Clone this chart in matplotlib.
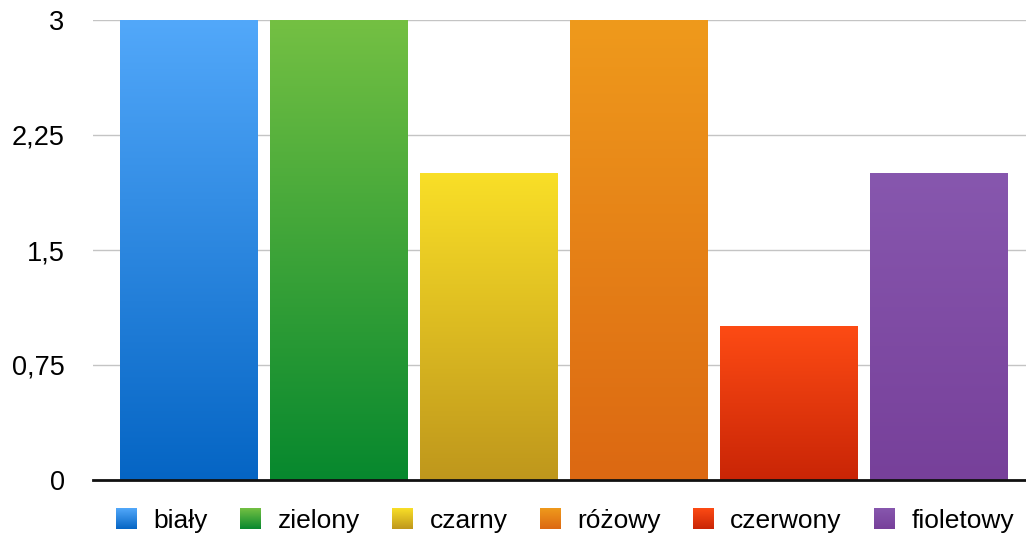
import numpy as np
import matplotlib
matplotlib.use("Agg")
from matplotlib import pyplot as plt
from matplotlib import colors as mcolors
from matplotlib.image import BboxImage
from matplotlib.legend_handler import HandlerBase
from matplotlib.transforms import Bbox, TransformedBbox

categories = ["biały", "zielony", "czarny", "różowy", "czerwony", "fioletowy"]
values = [3, 3, 2, 3, 1, 2]
top_colors = ["#52a8fa", "#74c043", "#f9df27", "#ef9a1c", "#fd4b14", "#8757ae"]
bottom_colors = ["#0565c4", "#07882e", "#bf971c", "#dc6812", "#c92506", "#77409a"]
yticks = [0, 0.75, 1.5, 2.25, 3]

plt.rcParams["font.family"] = ["Liberation Sans", "DejaVu Sans"]


def gradient(top, bottom, n=256):
    # rows go bottom -> top
    t = np.linspace(0, 1, n)[:, None]
    a = np.array(mcolors.to_rgb(bottom))
    b = np.array(mcolors.to_rgb(top))
    return (a + (b - a) * t).reshape(n, 1, 3)


class GradientHandler(HandlerBase):
    def __init__(self, top, bottom):
        super().__init__()
        self.top = top
        self.bottom = bottom

    def create_artists(self, legend, orig_handle, xdescent, ydescent,
                       width, height, fontsize, trans):
        size = min(width, height)
        x0 = -xdescent + (width - size) / 2
        y0 = -ydescent + (height - size) / 2
        bb = TransformedBbox(Bbox.from_bounds(x0, y0, size, size), trans)
        img = BboxImage(bb, interpolation="bilinear", origin="lower")
        img.set_data(gradient(self.top, self.bottom))
        return [img]


fig = plt.figure(figsize=(10.26, 5.40), dpi=100)
ax = fig.add_axes([93 / 1026, 1 - 480 / 540, 1 - 93 / 1026, 460 / 540])

x = np.arange(len(categories))
width = 0.92
bars = ax.bar(x, values, width, color="none", edgecolor="none")
for i, b in enumerate(bars):
    ax.imshow(gradient(top_colors[i], bottom_colors[i]), origin="lower",
              extent=[x[i] - width / 2, x[i] + width / 2, 0, values[i]],
              aspect="auto", interpolation="bilinear", zorder=2)

ax.set_xlim(-0.64, 5.58)
ax.set_ylim(0, 3)
ax.set_yticks(yticks)
ax.set_yticklabels([f"{v:g}".replace(".", ",") for v in yticks], fontsize=19.5)
ax.set_xticks([])
ax.tick_params(axis="y", length=0, pad=20.5)
ax.grid(axis="y", color="#c4c4c4", linewidth=1, zorder=0)
ax.set_axisbelow(True)
for side in ["left", "right", "top"]:
    ax.spines[side].set_visible(False)
ax.spines["bottom"].set_color("#111111")
ax.spines["bottom"].set_linewidth(2)
ax.spines["bottom"].set_zorder(3)

handler_map = {b: GradientHandler(top_colors[i], bottom_colors[i]) for i, b in enumerate(bars)}
fig.legend(list(bars), categories, handler_map=handler_map, loc="center",
           bbox_to_anchor=(565 / 1026, 1 - 521 / 540), ncol=6, frameon=False,
           fontsize=19, handlelength=0.83, handleheight=0.83,
           handletextpad=0.6, columnspacing=1.21)

fig.savefig("out.png", dpi=100)
